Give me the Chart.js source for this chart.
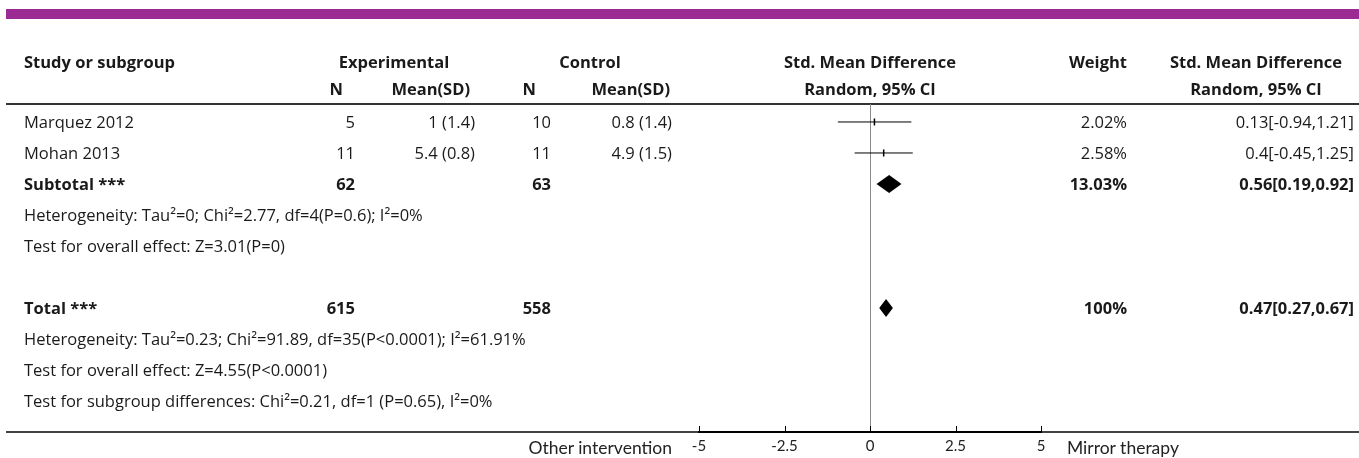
<!DOCTYPE html>
<html><head><meta charset="utf-8">
<script src="https://cdn.jsdelivr.net/npm/chart.js@4.4.1/dist/chart.umd.min.js"></script>
<style>
html,body{margin:0;padding:0;background:#fff;}
#wrap{position:relative;width:1359px;height:458px;overflow:hidden;font-family:"Open Sans","Noto Sans",sans-serif;color:#1a1a1a;}
canvas{position:absolute;left:0;top:0;}
.t{position:absolute;white-space:nowrap;font-size:16.5px;line-height:22px;height:22px;}
.b{font-weight:bold;}
.ax{font-family:Lato,sans-serif;font-size:17.5px;color:#222;}
</style></head>
<body><div id="wrap"><canvas id="c" width="1359" height="458"></canvas></div>
<script>
// ---- data ----
const studyNames = ['Marquez 2012', 'Mohan 2013'];
const studyRow = [0, 1];
const expN = [5, 11];
const expMean = [1, 5.4];
const expSD = [1.4, 0.8];
const ctrlN = [10, 11];
const ctrlMean = [0.8, 4.9];
const ctrlSD = [1.4, 1.5];
const studyWeight = [2.02, 2.58];
const studySMD = [0.13, 0.4];
const studyLo = [-0.94, -0.45];
const studyHi = [1.21, 1.25];

const pooledNames = ['Subtotal ***', 'Total ***'];
const pooledRow = [2, 6];
const pooledExpN = [62, 615];
const pooledCtrlN = [63, 558];
const pooledWeight = [13.03, 100];
const pooledSMD = [0.56, 0.47];
const pooledLo = [0.19, 0.27];
const pooledHi = [0.92, 0.67];

const noteRows = [3, 4, 7, 8, 9];
const noteTexts = [
  'Heterogeneity: Tau\u00B2=0; Chi\u00B2=2.77, df=4(P=0.6); I\u00B2=0%',
  'Test for overall effect: Z=3.01(P=0)',
  'Heterogeneity: Tau\u00B2=0.23; Chi\u00B2=91.89, df=35(P<0.0001); I\u00B2=61.91%',
  'Test for overall effect: Z=4.55(P<0.0001)',
  'Test for subgroup differences: Chi\u00B2=0.21, df=1 (P=0.65), I\u00B2=0%'
];
const xTicks = [-5, -2.5, 0, 2.5, 5];
const leftLabel = 'Other intervention';
const rightLabel = 'Mirror therapy';

// ---- chart ----
const datasets = [];
studyNames.forEach((n, i) => {
  datasets.push({
    label: n + ' CI', data: [{x: studyLo[i], y: studyRow[i]}, {x: studyHi[i], y: studyRow[i]}],
    showLine: true, borderColor: '#000', borderWidth: 1, pointRadius: 0
  });
  datasets.push({
    label: n, data: [{x: studySMD[i], y: studyRow[i]}],
    pointStyle: 'line', rotation: 90, pointRadius: 3.5, borderColor: '#000', borderWidth: 1.5
  });
});

const deco = {
  id: 'deco',
  beforeDraw(chart) {
    const c = chart.ctx, a = chart.chartArea;
    c.save();
    c.fillStyle = '#9C2A93';
    c.fillRect(6, 9, 1353, 10);
    c.fillStyle = '#333';
    c.fillRect(6, a.top - 1, 1353, 2);
    c.fillStyle = '#444';
    c.fillRect(6, a.bottom - 1, 1353, 2);
    c.restore();
  },
  afterDraw(chart) {
    const c = chart.ctx, xs = chart.scales.x, ys = chart.scales.y, a = chart.chartArea;
    c.save();
    c.strokeStyle = '#000';
    c.lineWidth = 1;
    xTicks.forEach(v => {
      const x = Math.round(xs.getPixelForValue(v)) + 0.5;
      c.beginPath(); c.moveTo(x, a.bottom); c.lineTo(x, a.bottom - 6); c.stroke();
    });
    c.fillStyle = '#000';
    pooledNames.forEach((n, i) => {
      const y = ys.getPixelForValue(pooledRow[i]);
      c.beginPath();
      c.moveTo(xs.getPixelForValue(pooledLo[i]), y);
      c.lineTo(xs.getPixelForValue(pooledSMD[i]), y - 9);
      c.lineTo(xs.getPixelForValue(pooledHi[i]), y);
      c.lineTo(xs.getPixelForValue(pooledSMD[i]), y + 9);
      c.closePath(); c.fill();
    });
    c.restore();
  }
};

const chart = new Chart(document.getElementById('c'), {
  type: 'scatter',
  data: {datasets},
  plugins: [deco],
  options: {
    responsive: false, animation: false, devicePixelRatio: 1,
    layout: {padding: {left: 699, right: 318, top: 104, bottom: 0}},
    plugins: {legend: {display: false}, tooltip: {enabled: false}},
    scales: {
      x: {
        type: 'linear', min: -5, max: 5, position: 'bottom',
        afterBuildTicks: s => { s.ticks = xTicks.map(v => ({value: v})); },
        afterFit: s => { s.height = 26; },
        grid: {drawTicks: false, lineWidth: 1,
          color: ctx => (ctx.tick && ctx.tick.value === 0) ? '#8a8a8a' : 'rgba(0,0,0,0)'},
        border: {display: true, color: '#000', width: 2},
        ticks: {padding: 5, color: '#222', autoSkip: false, maxRotation: 0,
          font: {family: 'Lato', size: 15}, callback: v => String(v)}
      },
      y: {type: 'linear', display: false, reverse: true, min: -0.58, max: 10}
    }
  }
});

// ---- table text ----
const wrap = document.getElementById('wrap');
function txt(s, x, y, align, cls) {
  const d = document.createElement('div');
  d.className = 't' + (cls ? ' ' + cls : '');
  d.textContent = s;
  d.style.top = (y - 11) + 'px';
  if (align === 'right') d.style.right = (1359 - x) + 'px';
  else if (align === 'center') { d.style.left = x + 'px'; d.style.transform = 'translateX(-50%)'; }
  else d.style.left = x + 'px';
  wrap.appendChild(d);
}
const ys = chart.scales.y;
const rowY = r => ys.getPixelForValue(r);
const colStudy = 24, colExpN = 355, colExpM = 475, colCtrlN = 551, colCtrlM = 672,
      colForest = 870, colW = 1127, colCI = 1354, colCIh = 1256;
const h1 = 62, h2 = 89;
txt('Study or subgroup', colStudy, h1, 'left', 'b');
txt('Experimental', 394, h1, 'center', 'b');
txt('Control', 590, h1, 'center', 'b');
txt('Std. Mean Difference', colForest, h1, 'center', 'b');
txt('Weight', colW, h1, 'right', 'b');
txt('Std. Mean Difference', colCIh, h1, 'center', 'b');
txt('N', 343, h2, 'right', 'b');
txt('Mean(SD)', 470, h2, 'right', 'b');
txt('N', 536, h2, 'right', 'b');
txt('Mean(SD)', 670, h2, 'right', 'b');
txt('Random, 95% CI', colForest, h2, 'center', 'b');
txt('Random, 95% CI', colCIh, h2, 'center', 'b');

studyNames.forEach((n, i) => {
  const y = rowY(studyRow[i]);
  txt(n, colStudy, y, 'left');
  txt(String(expN[i]), colExpN, y, 'right');
  txt(expMean[i] + ' (' + expSD[i] + ')', colExpM, y, 'right');
  txt(String(ctrlN[i]), colCtrlN, y, 'right');
  txt(ctrlMean[i] + ' (' + ctrlSD[i] + ')', colCtrlM, y, 'right');
  txt(studyWeight[i] + '%', colW, y, 'right');
  txt(studySMD[i] + '[' + studyLo[i] + ',' + studyHi[i] + ']', colCI, y, 'right');
});
pooledNames.forEach((n, i) => {
  const y = rowY(pooledRow[i]);
  txt(n, colStudy, y, 'left', 'b');
  txt(String(pooledExpN[i]), colExpN, y, 'right', 'b');
  txt(String(pooledCtrlN[i]), colCtrlN, y, 'right', 'b');
  txt(pooledWeight[i] + '%', colW, y, 'right', 'b');
  txt(pooledSMD[i] + '[' + pooledLo[i] + ',' + pooledHi[i] + ']', colCI, y, 'right', 'b');
});
noteRows.forEach((r, i) => txt(noteTexts[i], colStudy, rowY(r), 'left'));
const ay = chart.chartArea.bottom + 16;
txt(leftLabel, 672, ay, 'right', 'ax');
txt(rightLabel, 1067, ay, 'left', 'ax');
</script>
</body></html>
